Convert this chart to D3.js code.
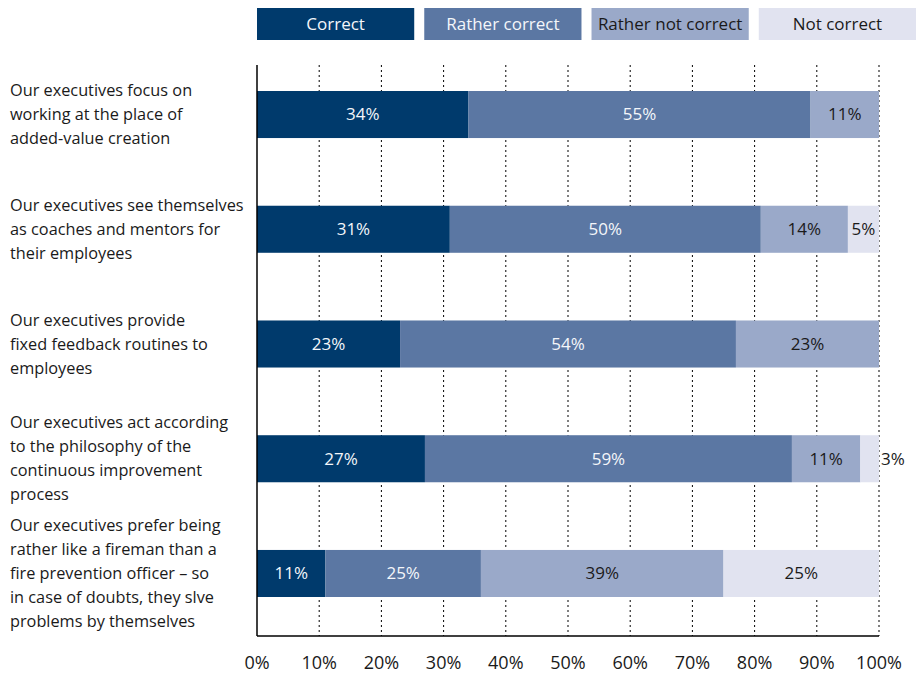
<!DOCTYPE html>
<html lang="en">
<head>
<meta charset="UTF-8">
<title>Executives survey</title>
<script src="https://d3js.org/d3.v7.min.js"></script>
<style>
  body { margin: 0; background: #fff; }
  text { font-family: "Open Sans", "Noto Sans", sans-serif; }
</style>
</head>
<body>
<svg width="922" height="675"></svg>
<script>
// data
var statements = [
  ["Our executives focus on", "working at the place of", "added-value creation"],
  ["Our executives see themselves", "as coaches and mentors for", "their employees"],
  ["Our executives provide", "fixed feedback routines to", "employees"],
  ["Our executives act according", "to the philosophy of the", "continuous improvement", "process"],
  ["Our executives prefer being", "rather like a fireman than a", "fire prevention officer \u2013 so", "in case of doubts, they slve", "problems by themselves"]
];
var answers = ["Correct", "Rather correct", "Rather not correct", "Not correct"];
var correct        = [34, 31, 23, 27, 11];
var ratherCorrect  = [55, 50, 54, 59, 25];
var ratherNot      = [11, 14, 23, 11, 39];
var notCorrect     = [0, 5, 0, 3, 25];
var ticks = [0, 10, 20, 30, 40, 50, 60, 70, 80, 90, 100];

var colours = ["#003a6c", "#5b77a3", "#9aa9c9", "#e1e3f0"];
var textColours = ["#f4f6fa", "#f4f6fa", "#1a1a1a", "#1a1a1a"];

var svg = d3.select("svg");
var x0 = 257, x1 = 879, y0 = 65, y1 = 636;

var x = d3.scaleLinear().domain([0, 100]).range([x0, x1]);
var y = d3.scaleBand().domain(d3.range(statements.length)).range([91, 597]).paddingInner(0.59).paddingOuter(0);

// stacked rows
var rows = statements.map(function (s, i) {
  return { i: i, vals: [correct[i], ratherCorrect[i], ratherNot[i], notCorrect[i]] };
});
var stack = d3.stack().keys([0, 1, 2, 3]).value(function (d, k) { return d.vals[k]; });
var series = stack(rows);

// gridlines
svg.append("g").selectAll("line").data(ticks.slice(1)).enter()
  .append("line")
  .attr("x1", function (d) { return x(d); })
  .attr("x2", function (d) { return x(d); })
  .attr("y1", y0)
  .attr("y2", y1)
  .style("stroke", "#000")
  .style("stroke-width", 1)
  .style("stroke-dasharray", "2,3");

// bars
var layers = svg.selectAll("g.layer").data(series).enter()
  .append("g").attr("class", "layer")
  .attr("fill", function (d) { return colours[d.key]; });

layers.selectAll("rect").data(function (d) { return d; }).enter()
  .append("rect")
  .attr("x", function (d) { return x(d[0]); })
  .attr("y", function (d) { return y(d.data.i); })
  .attr("width", function (d) { return x(d[1]) - x(d[0]); })
  .attr("height", y.bandwidth());

// value labels
function small(d) { return x(d[1]) - x(d[0]) < 28; }
series.forEach(function (s) {
  svg.append("g").selectAll("text").data(s.filter(function (d) { return d[1] - d[0] > 0; })).enter()
    .append("text")
    .attr("x", function (d) { return small(d) ? x(d[1]) + 2 : (x(d[0]) + x(d[1])) / 2; })
    .attr("y", function (d) { return y(d.data.i) + y.bandwidth() / 2; })
    .attr("dy", "0.35em")
    .attr("text-anchor", function (d) { return small(d) ? "start" : "middle"; })
    .style("font-size", "17px")
    .style("fill", function (d) { return small(d) ? "#1a1a1a" : textColours[s.key]; })
    .text(function (d) { return (d[1] - d[0]) + "%"; });
});

// axis lines
svg.append("line").attr("x1", x0).attr("x2", x0).attr("y1", y0).attr("y2", y1)
  .style("stroke", "#000").style("stroke-width", 1.5);
svg.append("line").attr("x1", x0).attr("x2", x1).attr("y1", y1).attr("y2", y1)
  .style("stroke", "#000").style("stroke-width", 1.5);

// tick labels
svg.append("g").selectAll("text").data(ticks).enter()
  .append("text")
  .attr("x", function (d) { return x(d); })
  .attr("y", 663)
  .attr("dy", "0.35em")
  .attr("text-anchor", "middle")
  .style("font-size", "18px")
  .style("fill", "#1a1a1a")
  .text(function (d) { return d + "%"; });

// category labels
var lineH = 24;
var cats = svg.append("g").selectAll("text").data(statements).enter()
  .append("text")
  .attr("x", 10)
  .attr("y", function (d, i) {
    return y(i) + y.bandwidth() / 2 - (d.length - 1) * lineH / 2;
  })
  .style("font-size", "16.3px")
  .style("fill", "#1a1a1a");
cats.selectAll("tspan").data(function (d) { return d; }).enter()
  .append("tspan")
  .attr("x", 10)
  .attr("dy", function (d, j) { return j === 0 ? "0.35em" : lineH; })
  .text(function (d) { return d; });

// legend
var legend = d3.scaleBand().domain(d3.range(answers.length)).range([257, 916]).paddingInner(0.06);
var lg = svg.append("g").selectAll("g").data(answers).enter().append("g");
lg.append("rect")
  .attr("x", function (d, i) { return legend(i); })
  .attr("y", 8)
  .attr("width", legend.bandwidth())
  .attr("height", 32)
  .attr("fill", function (d, i) { return colours[i]; });
lg.append("text")
  .attr("x", function (d, i) { return legend(i) + legend.bandwidth() / 2; })
  .attr("y", 24)
  .attr("dy", "0.35em")
  .attr("text-anchor", "middle")
  .style("font-size", "17px")
  .style("fill", function (d, i) { return textColours[i]; })
  .text(function (d) { return d; });
</script>
</body>
</html>
